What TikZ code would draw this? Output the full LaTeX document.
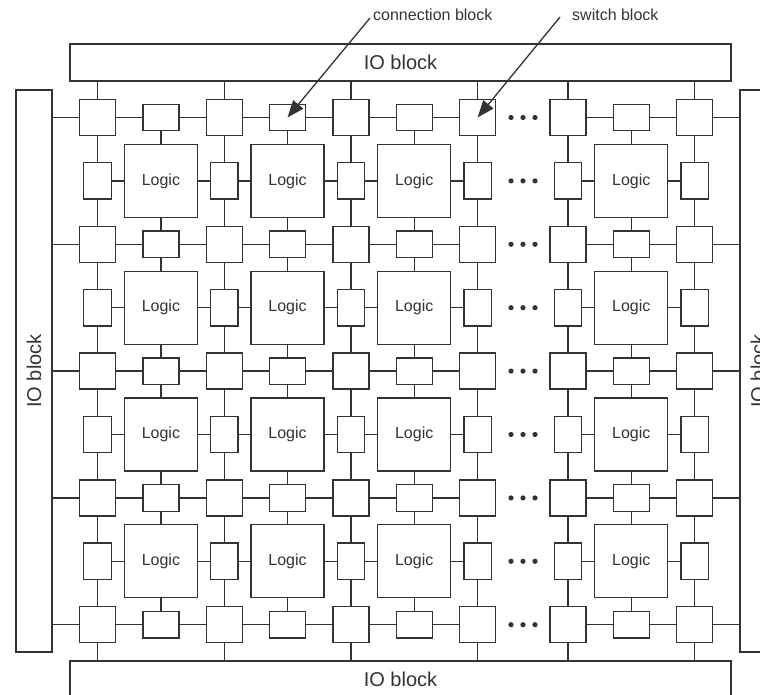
\documentclass[tikz,border=0pt]{standalone}
\usepackage{fontspec}
\setmainfont{Liberation Sans}
\usepackage{xcolor}
\definecolor{cLine}{HTML}{333333}
\usetikzlibrary{arrows.meta}
\tikzset{
  blk/.style={draw=cLine,line width=1.3pt,inner sep=0pt,text=cLine},
  node-sw/.style={blk,minimum width=36pt,minimum height=36pt},
  node-hc/.style={blk,minimum width=36pt,minimum height=26.5pt},
  node-vc/.style={blk,minimum width=27.5pt,minimum height=36.5pt},
  node-logic/.style={blk,minimum size=73pt,font=\fontsize{16}{19}\selectfont},
  node-io/.style={blk,font=\fontsize{20}{24}\selectfont},
  node-iotext/.style={inner sep=0pt,text=cLine,font=\fontsize{20}{24}\selectfont},
  node-label/.style={inner sep=0pt,text=cLine,font=\fontsize{16}{19}\selectfont},
  wire/.style={draw=cLine,line width=1.3pt},
  arrow/.style={-{Triangle[length=17pt,width=13pt]},line width=1.3pt,draw=cLine},
}

\begin{document}
\begin{tikzpicture}[x=1pt,y=-1pt]
  \useasboundingbox (0,0) rectangle (760,695);
  \clip (0,0) rectangle (760,695);
  % IO blocks
  \node[node-io,minimum width=661pt,minimum height=37pt] (io-t) at (400.5,62.5) {IO block};
  \node[node-io,minimum width=661pt,minimum height=37pt] (io-b) at (400.5,679.5) {IO block};
  \node[node-io,minimum width=36pt,minimum height=562pt] (io-l) at (34,371) {};
  \node[node-io,minimum width=36pt,minimum height=562pt] (io-r) at (758,371) {};
  \node[node-iotext,rotate=90] (io-l-txt) at (io-l) {IO block};
  \node[node-iotext,rotate=90] (io-r-txt) at (io-r) {IO block};
  % switch blocks and vertical connection blocks
  \foreach \c/\x in {0/97.5,1/224.2,2/350.9,3/477.6,4/568,5/694.6} {
    \foreach \r in {0,...,4}
      \node[node-sw] (sw-\r-\c) at (\x,{117.5+126.8*\r}) {};
    \foreach \q in {0,...,3}
      \node[node-vc] (vc-\q-\c) at (\x,{180.9+126.8*\q}) {};
  }
  % logic blocks and horizontal connection blocks
  \foreach \k/\x in {0/160.9,1/287.5,2/414.2,3/631.3} {
    \foreach \r in {0,...,4}
      \node[node-hc] (hc-\r-\k) at (\x,{117.5+126.8*\r}) {};
    \foreach \q in {0,...,3}
      \node[node-logic] (lg-\q-\k) at (\x,{180.9+126.8*\q}) {Logic};
  }
  % routing
  \foreach \k/\a/\b in {0/0/1,1/1/2,2/2/3,3/4/5} {
    \foreach \r in {0,...,4} {
      \draw[wire] (sw-\r-\a) -- (hc-\r-\k);
      \draw[wire] (hc-\r-\k) -- (sw-\r-\b);
    }
    \foreach \q [evaluate=\q as \qn using int(\q+1)] in {0,...,3} {
      \draw[wire] (hc-\q-\k) -- (lg-\q-\k);
      \draw[wire] (lg-\q-\k) -- (hc-\qn-\k);
      \draw[wire] (vc-\q-\a) -- (lg-\q-\k);
      \draw[wire] (lg-\q-\k) -- (vc-\q-\b);
    }
  }
  \foreach \c in {0,...,5} {
    \foreach \q [evaluate=\q as \qn using int(\q+1)] in {0,...,3} {
      \draw[wire] (sw-\q-\c) -- (vc-\q-\c);
      \draw[wire] (vc-\q-\c) -- (sw-\qn-\c);
    }
    \draw[wire] (io-t.south -| sw-0-\c) -- (sw-0-\c);
    \draw[wire] (sw-4-\c) -- (io-b.north -| sw-4-\c);
  }
  \foreach \r in {0,...,4} {
    \draw[wire] (io-l.east |- sw-\r-0) -- (sw-\r-0);
    \draw[wire] (sw-\r-5) -- (io-r.west |- sw-\r-5);
  }
  % ellipsis
  \foreach \i in {0,...,8}
    \foreach \dx in {-12,0,12}
      \fill[cLine] ({523+\dx},{117.5+63.4*\i}) circle (2.6pt);
  % labels
  \node[node-label,anchor=west] (lbl-conn) at (373,15) {connection block};
  \node[node-label,anchor=west] (lbl-sw) at (572,15) {switch block};
  \draw[arrow] ([xshift=-3pt,yshift=-3pt]lbl-conn.west) -- (hc-0-1.center);
  \draw[arrow] ([xshift=-12pt,yshift=-2pt]lbl-sw.west) -- (sw-0-3.center);
\end{tikzpicture}
\end{document}
